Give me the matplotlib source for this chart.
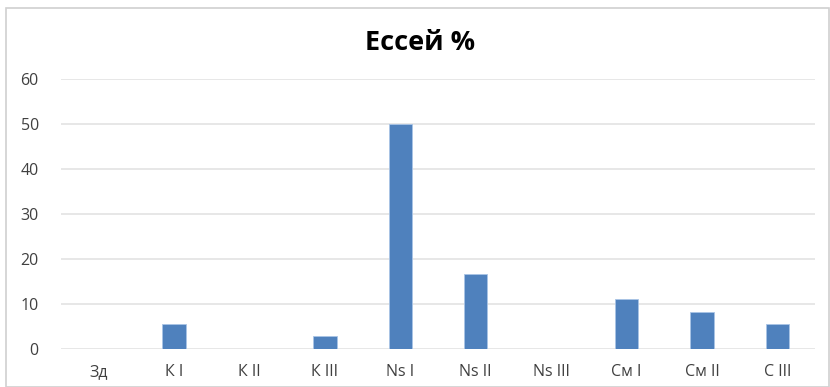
import matplotlib.pyplot as plt
from matplotlib.patches import Rectangle

categories = ["Зд", "К I", "К II", "К III", "Ns I", "Ns II", "Ns III", "См I", "См II", "С III"]
values = [0, 5.6, 0, 2.8, 50, 16.7, 0, 11.1, 8.3, 5.6]
yticks = [0, 10, 20, 30, 40, 50, 60]

plt.rcParams['font.family'] = ['Open Sans', 'DejaVu Sans']

fig = plt.figure(figsize=(8.3, 3.87), dpi=100)
ax = fig.add_axes([61 / 830, 1 - 349 / 387, 754 / 830, 270 / 387])

x = range(len(categories))
ax.bar(x, values, width=0.31, color="#4f81bd", edgecolor="#a9c4e6", linewidth=0.6, zorder=3)

ax.set_xlim(-0.5, len(categories) - 0.5)
ax.set_ylim(0, 60)
ax.set_yticks(yticks)
ax.set_xticks(list(x))
ax.set_xticklabels(categories)
ax.grid(axis="y", color="#e3e3e3", linewidth=1.2, zorder=0)
for s in ax.spines.values():
    s.set_visible(False)
ax.tick_params(axis="both", length=0, labelsize=11.5, colors="#404040")
ax.tick_params(axis="x", pad=11)
ax.tick_params(axis="y", pad=16)

fig.text(0.506, 0.888, "Ессей %", ha="center", va="center", fontsize=19.5, fontweight="bold", color="black")

fig.patches.append(Rectangle((6 / 830, 0.0), 823 / 830, 1 - 8 / 387, transform=fig.transFigure,
                             fill=False, edgecolor="#d0d0d0", linewidth=1.2))

fig.savefig("out.png", dpi=100)
